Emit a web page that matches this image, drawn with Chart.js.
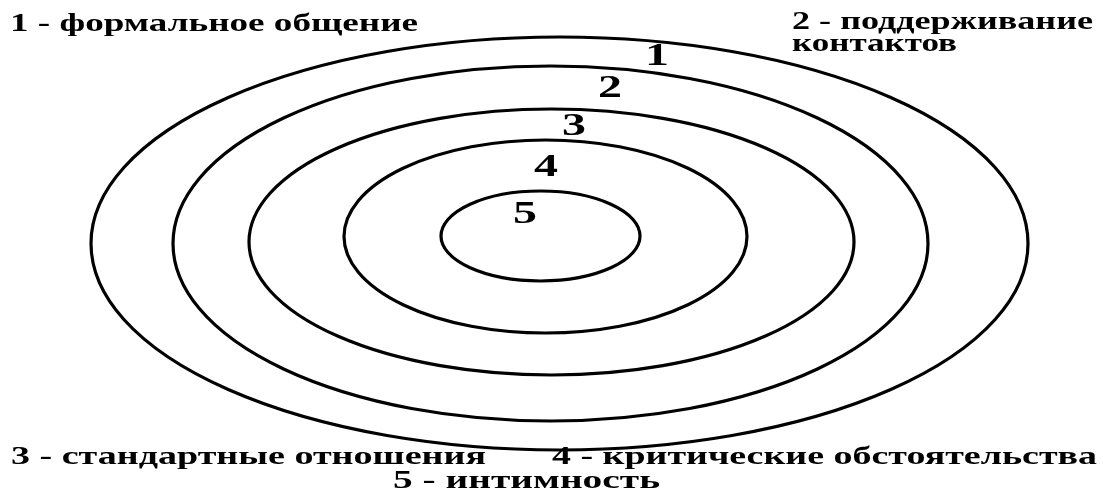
<!DOCTYPE html>
<html>
<head>
<meta charset="utf-8">
<script src="https://cdn.jsdelivr.net/npm/chart.js@4/dist/chart.umd.min.js"></script>
<style>
  body { margin: 0; background: #fff; }
  #wrap { width: 1103px; height: 490px; position: relative; }
</style>
</head>
<body>
<div id="wrap"><canvas id="rings"></canvas></div>
<script>
// rings, from outer (1) to inner (5), in picture units
const ringNames = ['1', '2', '3', '4', '5'];
const ringCenterX = [559.5, 550.5, 551.5, 545.5, 540.5];
const ringCenterY = [243.5, 243.5, 242, 236.5, 236];
const ringRadiusX = [468.5, 377.5, 302.5, 201.5, 99.5];
const ringRadiusY = [206.5, 177.5, 133, 96.5, 45];

const legendTexts = [
    '1 - формальное общение',
    '2 - поддерживание',
    'контактов',
    '3 - стандартные отношения',
    '4 - критические обстоятельства',
    '5 - интимность'
];

var inkcolor = "#000"
var fontname = '"Liberation Serif", "Times New Roman", serif'

// where the texts sit and how wide they run (layout only)
const legendSpots = [[10, 25, 408], [792, 23, 301], [792, 45, 165], [11, 458, 475], [552, 458, 545], [393, 482, 267]];
const numberSpots = [[657, 57], [610, 89], [574, 127], [546, 168], [525, 215]];

function fittedText(ctx, text, x, y, width, align) {
    const w = ctx.measureText(text).width;
    const sx = width ? width / w : 1.5;
    ctx.save();
    ctx.translate(x, y);
    ctx.scale(sx, 1);
    ctx.textAlign = align;
    ctx.textBaseline = 'middle';
    ctx.fillText(text, 0, 0);
    ctx.restore();
}

const ringPlugin = {
    id: 'ringPlugin',
    afterDatasetsDraw(chart) {
        const ctx = chart.ctx;
        const xs = chart.scales.x;
        const ys = chart.scales.y;
        ctx.save();
        ctx.strokeStyle = inkcolor;
        ctx.lineWidth = 3.2;
        for (let i = 0; i < ringNames.length; i++) {
            const px = xs.getPixelForValue(ringCenterX[i]);
            const py = ys.getPixelForValue(ringCenterY[i]);
            const rx = Math.abs(xs.getPixelForValue(ringCenterX[i] + ringRadiusX[i]) - px);
            const ry = Math.abs(ys.getPixelForValue(ringCenterY[i] + ringRadiusY[i]) - py);
            ctx.beginPath();
            ctx.ellipse(px, py, rx, ry, 0, 0, Math.PI * 2);
            ctx.stroke();
        }
        ctx.fillStyle = inkcolor;
        ctx.font = 'bold 32px ' + fontname;
        for (let i = 0; i < ringNames.length; i++) {
            fittedText(ctx, ringNames[i],
                xs.getPixelForValue(numberSpots[i][0]),
                ys.getPixelForValue(numberSpots[i][1]), 0, 'center');
        }
        ctx.font = 'bold 25px ' + fontname;
        for (let i = 0; i < legendTexts.length; i++) {
            fittedText(ctx, legendTexts[i],
                xs.getPixelForValue(legendSpots[i][0]),
                ys.getPixelForValue(legendSpots[i][1]), legendSpots[i][2], 'left');
        }
        ctx.restore();
    }
};

const dataRings = {
    datasets: [{
    data: ringNames.map((n, i) => ({ x: ringCenterX[i], y: ringCenterY[i] })),
    pointRadius: 0,
    }]
};

const options = {
        animation: false,
        responsive: true,
        maintainAspectRatio: false,
        layout: { padding: 0 },
        scales: {
            x: { type: 'linear', display: false, min: 0, max: 1103 },
            y: { type: 'linear', display: false, min: 0, max: 490, reverse: true }
        },
        plugins: {
            legend: { display: false },
            tooltip: { enabled: false }
        },
};

const chartRings = new Chart(
document.getElementById('rings'),
{ type: 'scatter', data: dataRings, options: options, plugins: [ringPlugin] }
);
</script>
</body>
</html>
